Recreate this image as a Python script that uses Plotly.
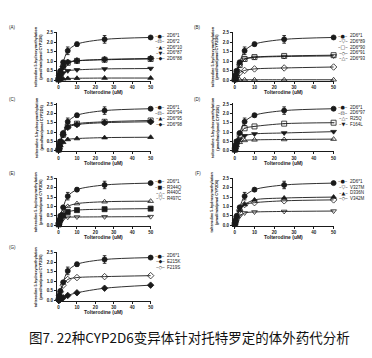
import plotly.graph_objects as go

W, H = 372, 358

# ---------------- data ----------------
conc = [0.1, 0.25, 0.5, 1, 2.5, 5, 10, 25, 50]
x_ticks = [0, 10, 20, 30, 40, 50]
y_ticks = [0.0, 0.5, 1.0, 1.5, 2.0, 2.5]

wt = [0.05, 0.13, 0.27, 0.5, 0.95, 1.55, 1.9, 2.15, 2.25]
wt_err = [0, 0, 0.02, 0.03, 0.05, 0.2, 0.1, 0.2, 0.04]

# (A)
A_names = ["2D6*1", "2D6*2", "2D6*10", "2D6*87", "2D6*88"]
A_2 = [0.04, 0.1, 0.22, 0.4, 0.7, 0.92, 1.02, 1.08, 1.12]
A_10 = [0.01, 0.02, 0.04, 0.06, 0.08, 0.1, 0.11, 0.12, 0.12]
A_87 = [0.03, 0.07, 0.13, 0.22, 0.38, 0.5, 0.55, 0.6, 0.62]
A_88 = [0.05, 0.12, 0.25, 0.42, 0.72, 0.95, 1.03, 1.1, 1.15]
# (B)
B_names = ["2D6*1", "2D6*89", "2D6*90", "2D6*91", "2D6*93"]
B_89 = [0.04, 0.11, 0.23, 0.42, 0.78, 1.1, 1.2, 1.25, 1.28]
B_90 = [0.05, 0.12, 0.25, 0.45, 0.8, 1.12, 1.22, 1.28, 1.32]
B_91 = [0.03, 0.07, 0.13, 0.23, 0.4, 0.52, 0.6, 0.65, 0.7]
B_93 = [0.01, 0.01, 0.02, 0.02, 0.03, 0.03, 0.03, 0.03, 0.03]
# (C)
C_names = ["2D6*1", "2D6*94", "2D6*95", "2D6*98"]
C_94 = [0.05, 0.12, 0.25, 0.45, 0.85, 1.3, 1.45, 1.55, 1.62]
C_95 = [0.03, 0.08, 0.15, 0.27, 0.45, 0.6, 0.65, 0.7, 0.72]
C_98 = [0.05, 0.12, 0.25, 0.45, 0.85, 1.25, 1.4, 1.5, 1.55]
# (D)
D_names = ["2D6*1", "2D6*97", "R25Q", "F164L"]
D_97 = [0.05, 0.12, 0.25, 0.45, 0.85, 1.2, 1.3, 1.45, 1.5]
D_R25Q = [0.03, 0.08, 0.15, 0.28, 0.45, 0.55, 0.58, 0.6, 0.62]
D_F164L = [0.04, 0.1, 0.2, 0.35, 0.6, 0.8, 0.9, 0.95, 1.02]
# (E)
E_names = ["2D6*1", "R344Q", "R440C", "R497C"]
E_R344Q = [0.03, 0.08, 0.17, 0.3, 0.52, 0.7, 0.8, 0.85, 0.88]
E_R440C = [0.04, 0.1, 0.2, 0.38, 0.7, 1.0, 1.15, 1.25, 1.28]
E_R497C = [0.03, 0.07, 0.13, 0.22, 0.35, 0.42, 0.43, 0.44, 0.45]
# (F)
F_names = ["2D6*1", "V327M", "D336N", "V342M"]
F_V327M = [0.03, 0.08, 0.15, 0.27, 0.48, 0.65, 0.7, 0.73, 0.75]
F_D336N = [0.05, 0.12, 0.25, 0.45, 0.8, 1.1, 1.35, 1.45, 1.5]
F_V342M = [0.05, 0.12, 0.25, 0.45, 0.8, 1.1, 1.2, 1.3, 1.35]
# (G)
G_names = ["2D6*1", "E215K", "F219S"]
G_E215K = [0.0, 0.01, 0.03, 0.06, 0.14, 0.26, 0.4, 0.64, 0.8]
G_F219S = [0.05, 0.12, 0.25, 0.45, 0.8, 1.1, 1.2, 1.25, 1.3]

caption = "图7. 22种CYP2D6变异体针对托特罗定的体外药代分析"
x_title = "Tolterodine (uM)"
y_title = "tolterodine 5-hydroxymethylation<br>(pmol/min/pmol CYP2D6)"

# ---------------- styling ----------------
glyph = {
    "circle": "●", "square-open-dot": "⊡", "triangle-up": "▲", "triangle-down": "▼",
    "diamond": "◆", "triangle-down-open": "▽", "square-open": "□", "diamond-open": "◇",
    "triangle-up-open": "△", "square": "■",
}

panels = [
    ("(A)", A_names, [wt, A_2, A_10, A_87, A_88],
     ["circle", "square-open-dot", "triangle-up", "triangle-down", "diamond"], 0, 0),
    ("(B)", B_names, [wt, B_89, B_90, B_91, B_93],
     ["circle", "triangle-down-open", "square-open", "diamond-open", "triangle-up-open"], 0, 1),
    ("(C)", C_names, [wt, C_94, C_95, C_98],
     ["circle", "square-open-dot", "triangle-up", "diamond"], 1, 0),
    ("(D)", D_names, [wt, D_97, D_R25Q, D_F164L],
     ["circle", "square-open-dot", "triangle-up-open", "triangle-down"], 1, 1),
    ("(E)", E_names, [wt, E_R344Q, E_R440C, E_R497C],
     ["circle", "square", "triangle-up-open", "triangle-down-open"], 2, 0),
    ("(F)", F_names, [wt, F_V327M, F_D336N, F_V342M],
     ["circle", "triangle-down-open", "triangle-up", "diamond-open"], 2, 1),
    ("(G)", G_names, [wt, G_E215K, G_F219S],
     ["circle", "diamond", "diamond-open"], 3, 0),
]

col_px = [(57, 152), (234, 336)]
row_px = [(31, 80.6), (103, 151.5), (178, 226.5), (253, 302.5)]

INK = "#1a1a1a"
FONT = "Liberation Sans"

fig = go.Figure()
annotations = []

for i, (lab, names, series, symbols, r, c) in enumerate(panels):
    k = i + 1
    xa = "x" if k == 1 else f"x{k}"
    ya = "y" if k == 1 else f"y{k}"
    left, right = col_px[c]
    top, bot = row_px[r]
    for j, (nm, ys, sym) in enumerate(zip(names, series, symbols)):
        tr = dict(
            x=conc, y=ys, mode="lines+markers", name=nm, showlegend=False,
            xaxis=xa, yaxis=ya,
            line=dict(color=INK, width=0.9, shape="spline", smoothing=0.8),
            marker=dict(symbol=sym, size=5, color=INK, line=dict(color=INK, width=0.8)),
            cliponaxis=False,
        )
        if j == 0:
            tr["error_y"] = dict(type="data", array=wt_err, color=INK, thickness=0.9, width=1.8)
        fig.add_trace(go.Scatter(**tr))

    axkw = dict(showline=True, linecolor=INK, linewidth=0.8, ticks="outside", ticklen=2,
                tickwidth=0.7, tickcolor=INK, showgrid=False, zeroline=False,
                tickfont=dict(family=FONT, size=4.5, color=INK, weight="bold"))
    fig.layout[("xaxis" if k == 1 else f"xaxis{k}")] = dict(
        domain=[left / W, right / W], anchor=ya, range=[-1, 50.3],
        tickvals=x_ticks, **axkw)
    fig.layout[("yaxis" if k == 1 else f"yaxis{k}")] = dict(
        domain=[1 - bot / H, 1 - top / H], anchor=xa, range=[-0.03, 2.55],
        tickvals=y_ticks, tickformat=".1f", **axkw)

    # panel label
    annotations.append(dict(text=lab, x=(left - 44 if c == 0 else left - 35) / W, y=1 - (top - 4) / H,
                            xref="paper", yref="paper", showarrow=False, xanchor="center",
                            yanchor="middle", font=dict(family=FONT, size=4.5, color=INK)))
    # y title
    annotations.append(dict(text=y_title, x=(left - 18) / W, y=1 - (top + bot) / 2 / H,
                            xref="paper", yref="paper", showarrow=False, textangle=-90,
                            xanchor="center", yanchor="middle",
                            font=dict(family=FONT, size=3.8, color=INK, weight="bold")))
    # x title
    annotations.append(dict(text=x_title, x=(left + right) / 2 / W, y=1 - (bot + 11.5) / H,
                            xref="paper", yref="paper", showarrow=False,
                            xanchor="center", yanchor="middle",
                            font=dict(family=FONT, size=5, color=INK, weight="bold")))
    # legend
    for j, (nm, sym) in enumerate(zip(names, symbols)):
        yy = 1 - (top + 4 + j * 5.7) / H
        annotations.append(dict(text="–" + glyph[sym] + "–", x=(right + 9) / W, y=yy,
                                xref="paper", yref="paper", showarrow=False,
                                xanchor="center", yanchor="middle",
                                font=dict(family="DejaVu Sans", size=5, color=INK)))
        annotations.append(dict(text=nm, x=(right + 14) / W, y=yy,
                                xref="paper", yref="paper", showarrow=False,
                                xanchor="left", yanchor="middle",
                                font=dict(family=FONT, size=4.5, color=INK)))

annotations.append(dict(text=caption, x=191 / W, y=1 - 339 / H, xref="paper", yref="paper",
                        showarrow=False, xanchor="center", yanchor="middle",
                        font=dict(family="Noto Sans CJK SC", size=13.5, color="#111")))

fig.update_layout(width=W, height=H, margin=dict(l=0, r=0, t=0, b=0),
                  paper_bgcolor="white", plot_bgcolor="white",
                  annotations=annotations, showlegend=False)

fig.write_html("out.html", config={"displayModeBar": False})

# remove the browser's default page margin so the figure sits at the window origin
with open("out.html", "r", encoding="utf-8") as f:
    html = f.read()
html = html.replace("<head>", "<head><style>html,body{margin:0;padding:0;overflow:hidden;}</style>", 1)
with open("out.html", "w", encoding="utf-8") as f:
    f.write(html)
